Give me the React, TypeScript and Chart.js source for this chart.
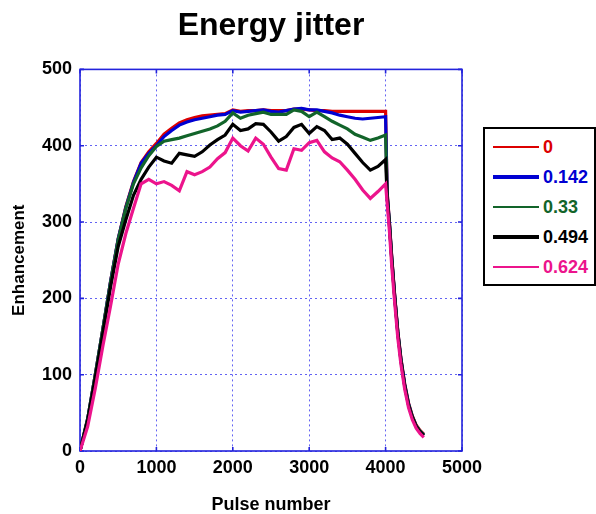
import React, { useEffect, useRef } from "react";
import { Chart, registerables } from "chart.js";

Chart.register(...registerables);

// Pulse numbers (x values shared by all series)
const pulse = [
  0, 100, 200, 300, 400, 500, 600, 700, 800, 900,
  1000, 1100, 1200, 1300, 1400, 1500, 1600, 1700, 1800, 1900,
  2000, 2100, 2200, 2300, 2400, 2500, 2600, 2700, 2800, 2900,
  3000, 3100, 3200, 3300, 3400, 3500, 3600, 3700, 3800, 3900,
  4000, 4020, 4050, 4080, 4120, 4160, 4200, 4250, 4300, 4350, 4400, 4450, 4500,
];

const jitter0 = [
  0, 42, 100, 160, 222, 278, 320, 353, 378, 392,
  403, 415, 423, 430, 434, 437, 439, 440, 441, 442,
  447, 445, 446, 446, 447, 446, 446, 446, 448, 448,
  447, 446, 446, 445, 445, 445, 445, 445, 445, 445,
  445, 340, 300, 255, 203, 157, 122, 88, 63, 46, 34, 27, 22,
];

const jitter0142 = [
  0, 42, 100, 160, 222, 278, 319, 352, 377, 390,
  400, 412, 420, 427, 431, 434, 436, 438, 440, 441,
  446, 444, 445, 446, 447, 445, 444, 446, 448, 449,
  447, 447, 445, 443, 440, 438, 436, 435, 436, 437,
  438, 338, 299, 254, 202, 156, 121, 87, 62, 45, 33, 26, 21,
];

const jitter033 = [
  0, 42, 100, 160, 221, 277, 318, 350, 371, 387,
  399, 406, 408, 410, 413, 416, 419, 422, 426, 432,
  443, 436, 440, 442, 444, 441, 441, 441, 447, 445,
  438, 444, 438, 432, 427, 422, 415, 411, 407, 410,
  414, 336, 298, 253, 201, 155, 120, 86, 61, 45, 33, 26, 21,
];

const jitter0494 = [
  0, 40, 96, 155, 215, 268, 303, 335, 356, 372,
  385, 380, 377, 390, 388, 386, 392, 401, 408, 414,
  428, 420, 422, 429, 428, 418, 406, 412, 424, 428,
  416, 425, 420, 408, 410, 402, 390, 378, 368, 373,
  382, 334, 296, 251, 200, 154, 119, 85, 60, 44, 32, 25, 20,
];

const jitter0624 = [
  0, 32, 82, 138, 190, 245, 285, 318, 350, 356,
  350, 353, 348, 341, 366, 362, 366, 372, 383, 391,
  410, 400, 393, 410, 402, 385, 370, 368, 396, 394,
  404, 407, 392, 384, 379, 368, 356, 342, 331, 340,
  350, 325, 288, 243, 193, 148, 114, 81, 57, 41, 30, 23, 18,
];

const seriesLabels = ["0", "0.142", "0.33", "0.494", "0.624"];
const seriesValues = [jitter0, jitter0142, jitter033, jitter0494, jitter0624];
const seriesColors = ["#dc0000", "#0000d2", "#12642a", "#000000", "#ec148c"];
const legendLineWidths = [2, 3.5, 2, 3.5, 2];

const xTicksMax = 5000;
const yTicksMax = 500;

const FONT = "Arial, 'Liberation Sans', Helvetica, sans-serif";
const AXIS_BLUE = "#2323dc";
const GRID_BLUE = "rgba(60,60,240,0.8)";

const framePlugin = {
  id: "frame",
  beforeDatasetsDraw(chart: any) {
    const { ctx, chartArea, scales } = chart;
    const { left, right, top, bottom } = chartArea;
    ctx.save();
    ctx.strokeStyle = AXIS_BLUE;
    ctx.lineWidth = 1.6;
    ctx.setLineDash([]);
    ctx.strokeRect(left, top, right - left, bottom - top);
    const tl = 4;
    ctx.beginPath();
    scales.x.ticks.forEach((t: any) => {
      const px = scales.x.getPixelForValue(t.value);
      ctx.moveTo(px, bottom);
      ctx.lineTo(px, bottom - tl);
      ctx.moveTo(px, top);
      ctx.lineTo(px, top + tl);
    });
    scales.y.ticks.forEach((t: any) => {
      const py = scales.y.getPixelForValue(t.value);
      ctx.moveTo(left, py);
      ctx.lineTo(left + tl, py);
      ctx.moveTo(right, py);
      ctx.lineTo(right - tl, py);
    });
    ctx.stroke();
    ctx.restore();
  },
};

export default function App() {
  const canvasRef = useRef<HTMLCanvasElement | null>(null);

  useEffect(() => {
    if (!canvasRef.current) return;
    const order = [4, 3, 2, 1, 0];
    const chart = new Chart(canvasRef.current, {
      type: "line",
      data: {
        datasets: seriesLabels.map((label, i) => ({
          label,
          data: pulse.map((p, j) => ({ x: p, y: seriesValues[i][j] })),
          borderColor: seriesColors[i],
          backgroundColor: seriesColors[i],
          borderWidth: 3.2,
          pointRadius: 0,
          tension: 0,
          fill: false,
          order: order[i],
        })),
      },
      options: {
        responsive: false,
        animation: false,
        layout: { padding: { left: 0, right: 134, top: 0, bottom: 0 } },
        plugins: {
          legend: { display: false },
          tooltip: { enabled: false },
          title: {
            display: true,
            fullSize: false,
            text: "Energy jitter",
            color: "#000",
            font: { family: FONT, size: 32, weight: "bold" },
            padding: { top: 7, bottom: 24 },
          },
        },
        scales: {
          x: {
            type: "linear",
            min: 0,
            max: xTicksMax,
            afterFit: (s: any) => {
              s.height = 63;
            },
            ticks: {
              stepSize: 1000,
              color: "#000",
              padding: 6,
              maxRotation: 0,
              font: { family: FONT, size: 18, weight: "bold" },
              callback: (v: any) => String(v),
            },
            grid: { color: GRID_BLUE, lineWidth: 1, drawTicks: false },
            border: { display: false, dash: [2, 3] },
            title: {
              display: true,
              text: "Pulse number",
              color: "#000",
              font: { family: FONT, size: 18, weight: "bold", lineHeight: 1 },
              padding: { top: 0, bottom: 0 },
            },
          },
          y: {
            type: "linear",
            min: 0,
            max: yTicksMax,
            afterFit: (s: any) => {
              s.width = 80;
            },
            ticks: {
              stepSize: 100,
              color: "#000",
              padding: 8,
              font: { family: FONT, size: 18, weight: "bold" },
              callback: (v: any) => String(v),
            },
            grid: { color: GRID_BLUE, lineWidth: 1, drawTicks: false },
            border: { display: false, dash: [2, 3] },
            title: {
              display: true,
              text: "Enhancement",
              color: "#000",
              font: { family: FONT, size: 17, weight: "bold" },
              padding: { top: 9, bottom: 0 },
            },
          },
        },
      },
      plugins: [framePlugin],
    });
    return () => chart.destroy();
  }, []);

  return (
    <div style={{ position: "absolute", left: 0, top: 0, width: 596, height: 514, background: "#fff" }}>
      <canvas ref={canvasRef} width={596} height={514} style={{ width: 596, height: 514, display: "block" }} />
      <div
        style={{
          position: "absolute",
          left: 483,
          top: 127,
          width: 113,
          height: 159,
          boxSizing: "border-box",
          border: "2px solid #000",
          background: "#fff",
          fontFamily: FONT,
          fontWeight: "bold",
          fontSize: 18,
        }}
      >
        {seriesLabels.map((label, i) => (
          <React.Fragment key={label}>
            <div
              style={{
                position: "absolute",
                left: 8,
                top: 18 + i * 30 - legendLineWidths[i] / 2,
                width: 46,
                height: legendLineWidths[i],
                background: seriesColors[i],
              }}
            />
            <div
              style={{
                position: "absolute",
                left: 58,
                top: 8 + i * 30,
                lineHeight: "20px",
                color: seriesColors[i],
                whiteSpace: "nowrap",
              }}
            >
              {label}
            </div>
          </React.Fragment>
        ))}
      </div>
    </div>
  );
}
